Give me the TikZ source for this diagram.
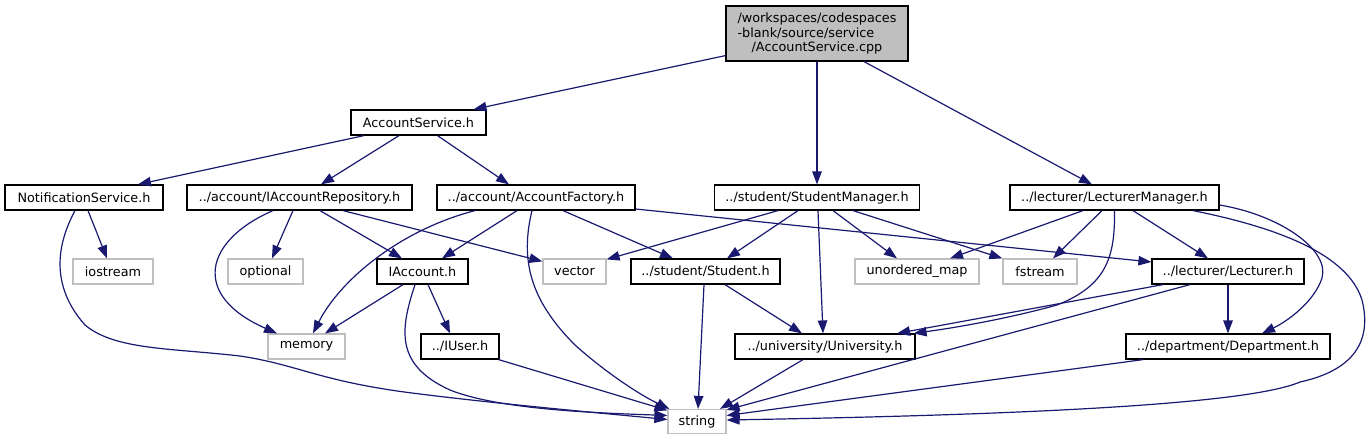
\documentclass[tikz,border=0pt]{standalone}
\usepackage{fontspec}
\setmainfont{DejaVu Sans}
\usepackage{calc}
\usepackage{tikz}
\usetikzlibrary{arrows.meta,positioning,calc}
\definecolor{edgeblue}{HTML}{191970}
\definecolor{sysgrey}{HTML}{BFBFBF}

\begin{document}
\begin{tikzpicture}[
  x=1pt, y=-1pt,
  hdr/.style={
    draw=black, line width=1.2pt, fill=white,
    minimum height=25pt, inner sep=0pt,
    font=\fontsize{12.8}{14.5}\selectfont
  },
  syshdr/.style={hdr, draw=sysgrey},
  srcfile/.style={hdr, fill=sysgrey, minimum height=55pt, align=center},
  inc/.style={-{Triangle[length=13pt,width=9.5pt]}, edgeblue, line width=1.2pt}
]
  \useasboundingbox (0,0) rectangle (1368,440);

  % Top: the source file and its header
  \node[srcfile, minimum width=182pt] (root) at (817,33.5)
    {/workspaces/codespaces\\\makebox[\widthof{/workspaces/codespaces}][l]{-blank/source/service}\\/AccountService.cpp};
  \node[hdr, minimum width=135pt] (as) at (418.5,122.5) {AccountService.h};

  % Second row
  \node[hdr, minimum width=158pt] (ns)  at (84,197.5)     {NotificationService.h};
  \node[hdr, minimum width=225pt] (iar) at (299.5,197.5)  {../account/IAccountRepository.h};
  \node[hdr, minimum width=198pt] (af)  at (536,197.5)    {../account/AccountFactory.h};
  \node[hdr, minimum width=205pt] (sm)  at (817,197.5)    {../student/StudentManager.h};
  \node[hdr, minimum width=209pt] (lm)  at (1114.5,197.5) {../lecturer/LecturerManager.h};

  % Third row
  \node[syshdr, minimum width=80pt]  (ios)  at (113,271.5)   {iostream};
  \node[syshdr, minimum width=75pt]  (opt)  at (265.5,271.5) {optional};
  \node[hdr,    minimum width=91pt]  (iacc) at (422.5,271.5) {IAccount.h};
  \node[syshdr, minimum width=63pt]  (vec)  at (574.5,271.5) {vector};
  \node[hdr,    minimum width=149pt] (stu)  at (705.5,271.5) {../student/Student.h};
  \node[syshdr, minimum width=124pt] (umap) at (917,271.5)   {unordered\_map};
  \node[syshdr, minimum width=74pt]  (fst)  at (1040,271.5)  {fstream};
  \node[hdr,    minimum width=152pt] (lec)  at (1228,271.5)  {../lecturer/Lecturer.h};

  % Fourth row and string
  \node[syshdr, minimum width=77pt]  (mem)   at (306.5,346.5) {memory};
  \node[hdr,    minimum width=78pt]  (iuser) at (460,346.5)   {../IUser.h};
  \node[hdr,    minimum width=180pt] (uni)   at (825,346.5)   {../university/University.h};
  \node[hdr,    minimum width=204pt] (dept)  at (1228,346.5)  {../department/Department.h};
  \node[syshdr, minimum width=58pt, minimum height=24pt] (str) at (697,421.5) {string};

  % from the source file
  \draw[inc] ([yshift=6pt]root.south west) -- ([xshift=55pt]as.north);
  \draw[inc] (root.south) -- (sm.north);
  \draw[inc] ([xshift=47pt]root.south) -- ([xshift=-22.5pt]lm.north);

  % AccountService.h
  \draw[inc] ([xshift=-54.5pt]as.south) -- ([xshift=54pt]ns.north);
  \draw[inc] ([xshift=-19.5pt]as.south) -- ([xshift=21.5pt]iar.north);
  \draw[inc] ([xshift=19pt]as.south) -- ([xshift=-27pt]af.north);

  % NotificationService.h
  \draw[inc] ([xshift=4pt]ns.south) -- ([xshift=-6pt]ios.north);
  \draw[inc] ([xshift=-9pt]ns.south) .. controls (62,235) and (45,280) .. (85,325)
    .. controls (115,350) and (170,348) .. (240,356)
    .. controls (300,365) and (320,382) .. (420,394)
    .. controls (500,404) and (600,413) .. ([yshift=2pt]str.west);

  % IAccountRepository.h
  \draw[inc] ([xshift=-6.5pt]iar.south) -- ([xshift=6.5pt]opt.north);
  \draw[inc] ([xshift=20.5pt]iar.south) -- ([xshift=-20.5pt]iacc.north);
  \draw[inc] ([xshift=43.5pt]iar.south) -- ([yshift=-3pt]vec.north west);
  \draw[inc] ([xshift=-26.5pt]iar.south) .. controls (205,240) and (190,295) .. ([xshift=-29.5pt]mem.north);

  % AccountFactory.h
  \draw[inc] ([xshift=-61pt]af.south) .. controls (400,230) and (340,280) .. ([xshift=6.5pt]mem.north);
  \draw[inc] ([xshift=-19pt]af.south) -- ([xshift=19.5pt]iacc.north);
  \draw[inc] ([xshift=-4pt]af.south) .. controls (520,260) and (530,300) .. (575,345)
    .. controls (605,372) and (640,395) .. ([xshift=2pt]str.north west);
  \draw[inc] ([xshift=27pt]af.south) -- ([xshift=-32.5pt]stu.north);
  \draw[inc] ([yshift=-11.5pt]af.east) -- ([yshift=9.5pt]lec.west);

  % StudentManager.h
  \draw[inc] ([xshift=-39pt]sm.south) -- ([yshift=-1pt]vec.north east);
  \draw[inc] ([xshift=-19pt]sm.south) -- ([xshift=21.5pt]stu.north);
  \draw[inc] ([xshift=1pt]sm.south) -- ([xshift=-2pt]uni.north);
  \draw[inc] ([xshift=16pt]sm.south) -- ([xshift=-20pt]umap.north);
  \draw[inc] ([xshift=36pt]sm.south) -- (fst.north west);

  % LecturerManager.h
  \draw[inc] ([xshift=-31.5pt]lm.south) -- ([xshift=33pt]umap.north);
  \draw[inc] ([xshift=-12.5pt]lm.south) -- ([xshift=13pt]fst.north);
  \draw[inc] ([xshift=18.5pt]lm.south) -- ([xshift=-20pt]lec.north);
  \draw[inc] (lm.south) .. controls (1115,255) and (1108,285) .. (1057,305)
    .. controls (1010,318) and (960,327) .. ([xshift=-2pt]uni.north east);
  \draw[inc] ([yshift=-7.5pt]lm.east) .. controls (1280,215) and (1330,250) .. (1322,278)
    .. controls (1315,300) and (1290,320) .. ([xshift=34pt]dept.north);
  \draw[inc] ([xshift=78.5pt]lm.south) .. controls (1280,228) and (1348,255) .. (1362,300)
    .. controls (1372,340) and (1355,370) .. (1300,382)
    .. controls (1240,408) and (950,416) .. ([yshift=1.5pt]str.east);

  % IAccount.h and IUser.h
  \draw[inc] ([xshift=-19.5pt]iacc.south) -- ([xshift=18.5pt]mem.north);
  \draw[inc] ([xshift=5.5pt]iacc.south) -- ([xshift=-10pt]iuser.north);
  \draw[inc] ([xshift=-7.5pt]iacc.south) .. controls (400,330) and (395,365) .. (450,390)
    .. controls (500,410) and (600,413) .. ([yshift=6pt]str.west);
  \draw[inc] ([xshift=-1pt]iuser.south east) -- ([yshift=-1.5pt]str.north west);

  % Student.h, University.h
  \draw[inc] ([xshift=-1.5pt]stu.south) -- ([xshift=1pt]str.north);
  \draw[inc] ([xshift=19.5pt]stu.south) -- ([xshift=-23pt]uni.north);
  \draw[inc] ([xshift=-22pt]uni.south) -- ([xshift=23pt]str.north);

  % Lecturer.h, Department.h
  \draw[inc] ([xshift=-65pt]lec.south) -- ([xshift=72pt]uni.north);
  \draw[inc] ([xshift=-38pt]lec.south) -- ([yshift=-1pt]str.north east);
  \draw[inc] (lec.south) -- (dept.north);
  \draw[inc] ([xshift=-85pt]dept.south) -- ([yshift=6pt]str.east);
\end{tikzpicture}
\end{document}
